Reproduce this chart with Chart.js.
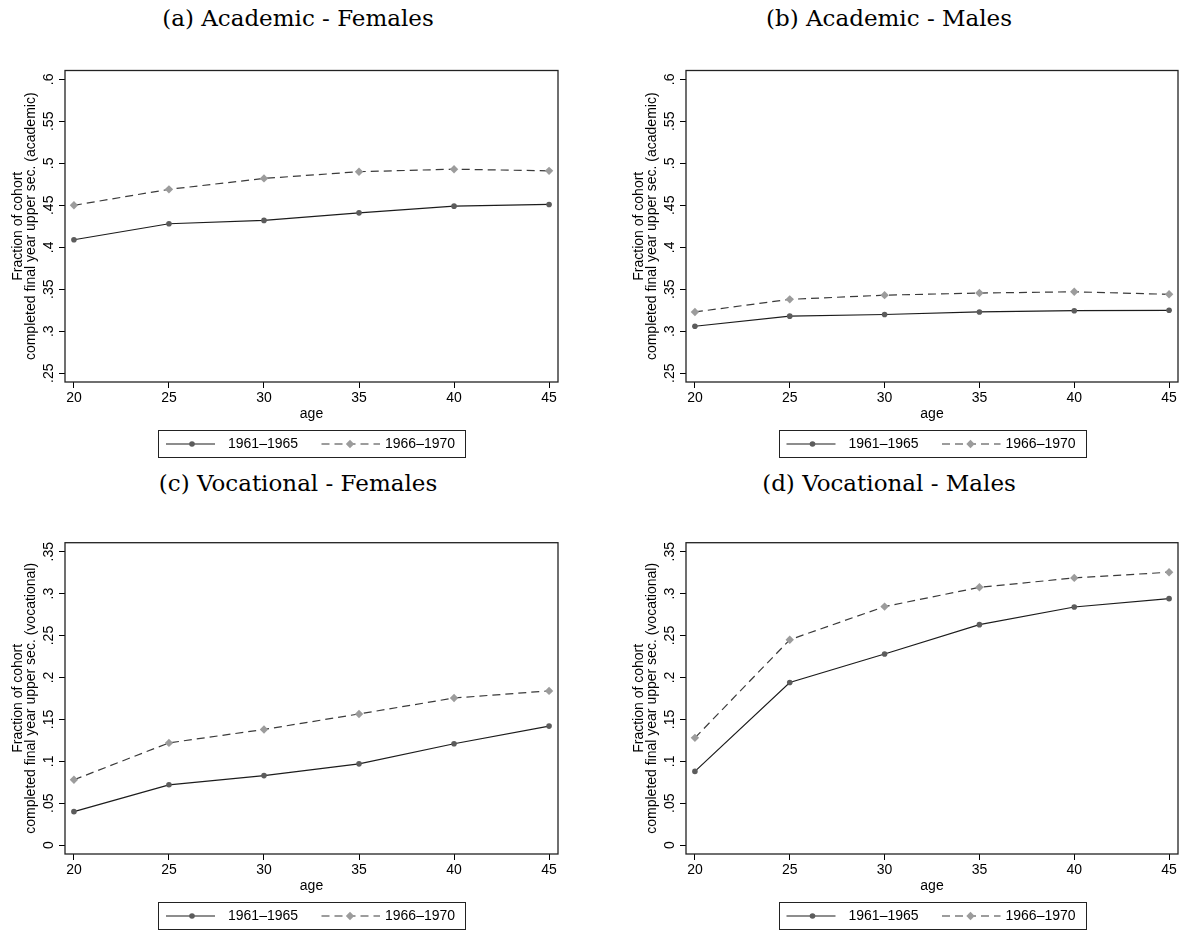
<!DOCTYPE html>
<html>
<head>
<meta charset="utf-8">
<script src="https://cdn.jsdelivr.net/npm/chart.js@4.4.0/dist/chart.umd.min.js"></script>
<style>
  body { margin: 0; background: #fff; width: 1184px; height: 932px; overflow: hidden; position: relative; }
  canvas { position: absolute; }
  .ttl { position: absolute; text-align: center; font-family: "DejaVu Serif", serif; font-size: 23px; line-height: 26px; color: #000; }
</style>
</head>
<body>
<div class="ttl" style="left:0; top:5px; width:596px">(a) Academic - Females</div>
<div class="ttl" style="left:592px; top:5px; width:594px">(b) Academic - Males</div>
<div class="ttl" style="left:0; top:470px; width:596px">(c) Vocational - Females</div>
<div class="ttl" style="left:592px; top:470px; width:594px">(d) Vocational - Males</div>
<canvas id="pa" width="592" height="466" style="left:0; top:0"></canvas>
<canvas id="pb" width="592" height="466" style="left:592px; top:0"></canvas>
<canvas id="pc" width="592" height="466" style="left:0; top:466px"></canvas>
<canvas id="pd" width="592" height="466" style="left:592px; top:466px"></canvas>
<script>
// ---- data ----
const ages = [20, 25, 30, 35, 40, 45];
const ageTickLabels = ['20', '25', '30', '35', '40', '45'];
const cohorts = ['1961\u20131965', '1966\u20131970'];

const acadFem6165 = [0.409, 0.428, 0.432, 0.441, 0.449, 0.451];
const acadFem6670 = [0.450, 0.469, 0.482, 0.490, 0.493, 0.491];
const acadMal6165 = [0.306, 0.318, 0.320, 0.323, 0.3245, 0.325];
const acadMal6670 = [0.323, 0.338, 0.343, 0.3455, 0.347, 0.344];
const vocFem6165 = [0.040, 0.072, 0.083, 0.097, 0.121, 0.142];
const vocFem6670 = [0.078, 0.122, 0.138, 0.1565, 0.1755, 0.184];
const vocMal6165 = [0.088, 0.194, 0.228, 0.263, 0.284, 0.294];
const vocMal6670 = [0.128, 0.245, 0.2845, 0.3075, 0.3187, 0.3255];

const acadTicks = [0.25, 0.3, 0.35, 0.4, 0.45, 0.5, 0.55, 0.6];
const acadTickLabels = ['.25', '.3', '.35', '.4', '.45', '.5', '.55', '.6'];
const vocTicks = [0, 0.05, 0.1, 0.15, 0.2, 0.25, 0.3, 0.35];
const vocTickLabels = ['0', '.05', '.1', '.15', '.2', '.25', '.3', '.35'];

const FONT = '"Liberation Sans", Arial, sans-serif';
Chart.defaults.font.family = FONT;
Chart.defaults.font.size = 14;
Chart.defaults.color = '#000';

// box around the plot region (Stata style)
const frame = {
  id: 'frame',
  afterDatasetsDraw(chart) {
    const { ctx, chartArea: a } = chart;
    ctx.save();
    ctx.strokeStyle = '#222';
    ctx.lineWidth = 1.3;
    ctx.strokeRect(a.left, a.top, a.right - a.left, a.bottom - a.top);
    ctx.restore();
  }
};

// boxed legend under the x axis title, centred on the plot
const boxLegend = {
  id: 'boxLegend',
  afterDraw(chart) {
    const { ctx, chartArea: a } = chart;
    const cx = (a.left + a.right) / 2;
    const top = Math.round(a.bottom + 48) + 0.5, h = 27, cy = top + h / 2;
    ctx.save();
    ctx.strokeStyle = '#222';
    ctx.lineWidth = 1;
    ctx.strokeRect(Math.round(cx - 153.5) + 0.5, top, 307, h);
    const spots = [[-145.5, -96.5, -119.5, -83.5], [10, 68.5, 38.5, 73.5]];
    chart.data.datasets.forEach((ds, i) => {
      const [x0, x1, xm, xt] = spots[i];
      ctx.strokeStyle = ds.borderColor;
      ctx.lineWidth = ds.borderWidth;
      ctx.setLineDash(ds.borderDash || []);
      ctx.beginPath();
      ctx.moveTo(cx + x0, cy);
      ctx.lineTo(cx + x1, cy);
      ctx.stroke();
      ctx.setLineDash([]);
      ctx.fillStyle = ds.pointBackgroundColor;
      ctx.beginPath();
      const r = ds.pointRadius;
      if (ds.pointStyle === 'rectRot') {
        ctx.moveTo(cx + xm, cy - r);
        ctx.lineTo(cx + xm + r, cy);
        ctx.lineTo(cx + xm, cy + r);
        ctx.lineTo(cx + xm - r, cy);
        ctx.closePath();
      } else {
        ctx.arc(cx + xm, cy, r, 0, Math.PI * 2);
      }
      ctx.fill();
      ctx.fillStyle = '#000';
      ctx.font = '14px ' + FONT;
      ctx.textBaseline = 'middle';
      ctx.textAlign = 'left';
      ctx.fillText(ds.label, cx + xt, cy + 0.5);
    });
    ctx.restore();
  }
};

function series(vals) {
  return ages.map((a, i) => ({ x: a, y: vals[i] }));
}

function makePanel(id, early, late, yTicks, yLabels, yMin, yMax, yTitle, pad) {
  new Chart(document.getElementById(id), {
    type: 'line',
    data: {
      datasets: [
        {
          label: cohorts[0],
          data: series(early),
          borderColor: '#1c1c1c',
          borderWidth: 1.2,
          pointStyle: 'circle',
          pointRadius: 2.8,
          pointBackgroundColor: '#5c5c5c',
          pointBorderWidth: 0,
          tension: 0
        },
        {
          label: cohorts[1],
          data: series(late),
          borderColor: '#3a3a3a',
          borderWidth: 1.2,
          borderDash: [8, 5],
          pointStyle: 'rectRot',
          pointRadius: 4.2,
          pointBackgroundColor: '#9c9c9c',
          pointBorderWidth: 0,
          tension: 0
        }
      ]
    },
    options: {
      responsive: false,
      animation: false,
      devicePixelRatio: 1,
      layout: { padding: { left: pad.left, right: pad.right, top: pad.top, bottom: pad.bottom } },
      plugins: { legend: { display: false }, tooltip: { enabled: false } },
      scales: {
        x: {
          type: 'linear',
          min: 19.53,
          max: 45.47,
          afterBuildTicks: s => { s.ticks = ages.map(v => ({ value: v })); },
          afterFit: s => { s.height = 41; },
          ticks: { callback: (v, i) => ageTickLabels[i], padding: 2, maxRotation: 0, autoSkip: false },
          grid: { display: true, drawOnChartArea: false, drawTicks: true, tickLength: 6, color: '#000' },
          border: { display: false },
          title: { display: true, text: 'age', padding: 0, font: { size: 14 } }
        },
        y: {
          min: yMin,
          max: yMax,
          afterBuildTicks: s => { s.ticks = yTicks.map(v => ({ value: v })); },
          afterFit: s => { s.width = 65; },
          ticks: { callback: (v, i) => yLabels[i], minRotation: 90, maxRotation: 90, crossAlign: 'center', padding: 0, autoSkip: false },
          grid: { display: true, drawOnChartArea: false, drawTicks: true, tickLength: 6, color: '#000' },
          border: { display: false },
          title: {
            display: true,
            text: ['Fraction of cohort', yTitle],
            padding: { top: 11, bottom: 0 },
            font: { size: 14, lineHeight: 0.95 }
          }
        }
      }
    },
    plugins: [frame, boxLegend]
  });
}

const acadTitle = 'completed final year upper sec. (academic)';
const vocTitle = 'completed final year upper sec. (vocational)';

makePanel('pa', acadFem6165, acadFem6670, acadTicks, acadTickLabels, 0.2396, 0.6105, acadTitle,
  { left: 0, right: 34, top: 70.5, bottom: 43 });
makePanel('pb', acadMal6165, acadMal6670, acadTicks, acadTickLabels, 0.2396, 0.6105, acadTitle,
  { left: 29, right: 6, top: 70.5, bottom: 43 });
makePanel('pc', vocFem6165, vocFem6670, vocTicks, vocTickLabels, -0.0105, 0.3607, vocTitle,
  { left: 0, right: 34, top: 76.7, bottom: 37 });
makePanel('pd', vocMal6165, vocMal6670, vocTicks, vocTickLabels, -0.0105, 0.3607, vocTitle,
  { left: 29, right: 6, top: 76.7, bottom: 37 });
</script>
</body>
</html>
